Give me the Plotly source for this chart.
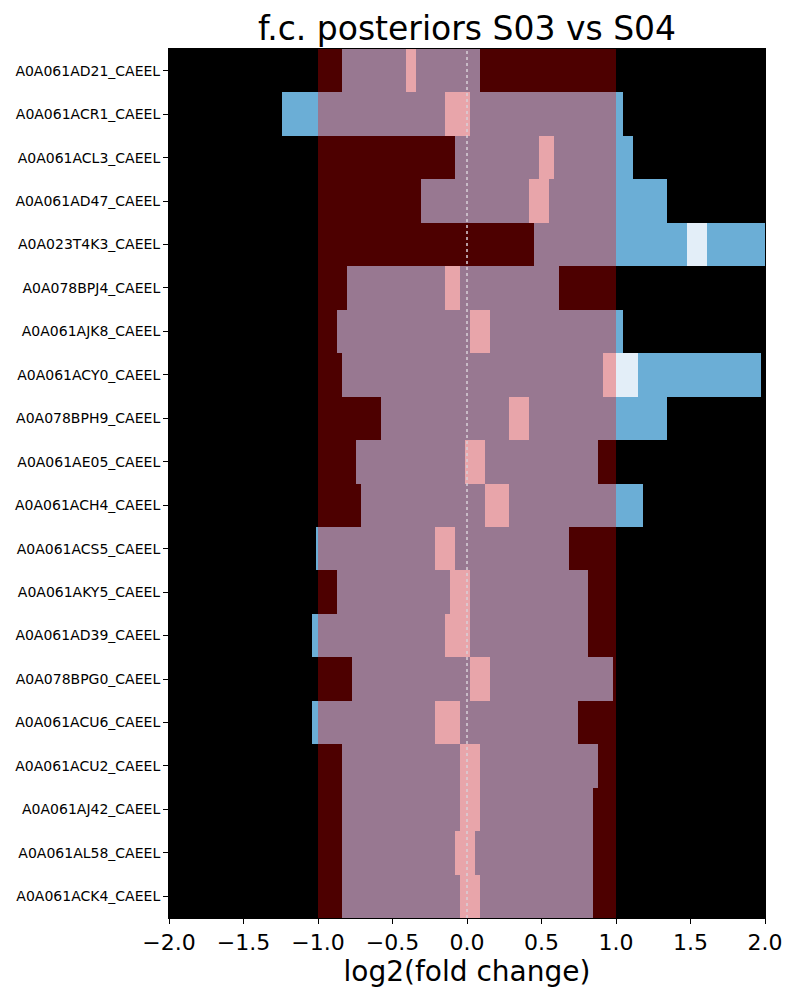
import plotly.graph_objects as go

proteins = [
    "A0A061AD21_CAEEL", "A0A061ACR1_CAEEL", "A0A061ACL3_CAEEL", "A0A061AD47_CAEEL",
    "A0A023T4K3_CAEEL", "A0A078BPJ4_CAEEL", "A0A061AJK8_CAEEL", "A0A061ACY0_CAEEL",
    "A0A078BPH9_CAEEL", "A0A061AE05_CAEEL", "A0A061ACH4_CAEEL", "A0A061ACS5_CAEEL",
    "A0A061AKY5_CAEEL", "A0A061AD39_CAEEL", "A0A078BPG0_CAEEL", "A0A061ACU6_CAEEL",
    "A0A061ACU2_CAEEL", "A0A061AJ42_CAEEL", "A0A061AL58_CAEEL", "A0A061ACK4_CAEEL",
]

# Segment breakpoints (log2 fold change) per protein, and the posterior class of each segment
edges = [
    [-1.0, -0.84, -0.41, -0.34, 0.09, 1.0],
    [-1.24, -1.0, -0.15, 0.02, 1.0, 1.05],
    [-1.0, -0.08, 0.485, 0.585, 1.0, 1.115],
    [-1.0, -0.31, 0.415, 0.55, 1.0, 1.34],
    [-1.0, 0.45, 1.0, 1.475, 1.61, 2.0],
    [-1.0, -0.805, -0.145, -0.045, 0.62, 1.0],
    [-1.0, -0.87, 0.02, 0.155, 1.0, 1.045],
    [-1.0, -0.84, 0.91, 1.0, 1.15, 1.975],
    [-1.0, -0.575, 0.285, 0.415, 1.0, 1.34],
    [-1.0, -0.745, -0.015, 0.12, 0.88, 1.0],
    [-1.0, -0.71, 0.12, 0.285, 1.0, 1.18],
    [-1.01, -1.0, -0.215, -0.08, 0.685, 1.0],
    [-1.0, -0.87, -0.115, 0.02, 0.81, 1.0],
    [-1.04, -1.0, -0.145, 0.02, 0.81, 1.0],
    [-1.0, -0.77, 0.02, 0.155, 0.98, 1.0],
    [-1.04, -1.0, -0.215, -0.045, 0.745, 1.0],
    [-1.0, -0.84, -0.045, 0.09, 0.88, 1.0],
    [-1.0, -0.84, -0.045, 0.09, 0.845, 1.0],
    [-1.0, -0.84, -0.08, 0.055, 0.845, 1.0],
    [-1.0, -0.84, -0.045, 0.09, 0.845, 1.0],
]
classes = [
    ["r", "m", "p", "m", "r"],
    ["b", "m", "p", "m", "b"],
    ["r", "m", "p", "m", "b"],
    ["r", "m", "p", "m", "b"],
    ["r", "m", "b", "l", "b"],
    ["r", "m", "p", "m", "r"],
    ["r", "m", "p", "m", "b"],
    ["r", "m", "p", "l", "b"],
    ["r", "m", "p", "m", "b"],
    ["r", "m", "p", "m", "r"],
    ["r", "m", "p", "m", "b"],
    ["b", "m", "p", "m", "r"],
    ["r", "m", "p", "m", "r"],
    ["b", "m", "p", "m", "r"],
    ["r", "m", "p", "m", "r"],
    ["b", "m", "p", "m", "r"],
    ["r", "m", "p", "m", "r"],
    ["r", "m", "p", "m", "r"],
    ["r", "m", "p", "m", "r"],
    ["r", "m", "p", "m", "r"],
]
x_ticks = [-2.0, -1.5, -1.0, -0.5, 0.0, 0.5, 1.0, 1.5, 2.0]
x_tick_labels = ["\u22122.0", "\u22121.5", "\u22121.0", "\u22120.5", "0.0", "0.5", "1.0", "1.5", "2.0"]

palette = {
    "r": "#4d0000",
    "m": "#987891",
    "p": "#e8a5aa",
    "b": "#6baed6",
    "l": "#e3eef8",
}

fig = go.Figure()
for code, col in palette.items():
    ys, bases, widths = [], [], []
    for prot, e, c in zip(proteins, edges, classes):
        for i, cc in enumerate(c):
            if cc == code:
                ys.append(prot)
                bases.append(e[i])
                widths.append(e[i + 1] - e[i])
    fig.add_trace(go.Bar(
        y=ys, x=widths, base=bases, orientation="h",
        marker=dict(color=col, line=dict(width=0)),
        width=1.0, showlegend=False, hoverinfo="skip",
    ))

fig.add_shape(type="line", xref="x", yref="paper", x0=0, x1=0, y0=0, y1=1,
              line=dict(color="#d8d0d8", width=1.5, dash="dot"), layer="above")

fig.update_layout(
    width=800, height=1000,
    margin=dict(l=169, r=35, t=49, b=82),
    paper_bgcolor="white", plot_bgcolor="black",
    barmode="overlay", bargap=0,
    font=dict(family="DejaVu Sans", color="black"),
    title=dict(text="f.c. posteriors S03 vs S04", xref="paper", x=0.5, xanchor="center",
               y=0.972, yanchor="middle", font=dict(size=33)),
    showlegend=False,
)
fig.update_xaxes(
    range=[-2, 2], tickvals=x_ticks, ticktext=x_tick_labels,
    tickfont=dict(size=22), ticks="outside", ticklen=5, tickcolor="black",
    showgrid=False, zeroline=False, showline=True, linecolor="black", linewidth=1,
    mirror=True,
    title=dict(text="log2(fold change)", font=dict(size=28), standoff=2),
)
fig.update_yaxes(
    type="category", categoryorder="array", categoryarray=proteins,
    range=[len(proteins) - 0.5, -0.5],
    tickfont=dict(size=14), ticks="outside", ticklen=5, tickcolor="black",
    showgrid=False, zeroline=False, showline=True, linecolor="black", linewidth=1,
    mirror=True,
)

fig.write_html("out.html")
